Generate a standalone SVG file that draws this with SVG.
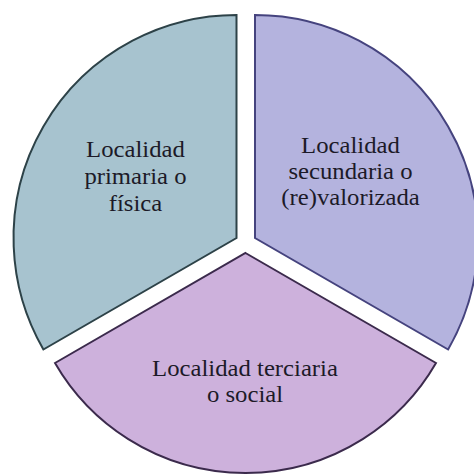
<svg xmlns="http://www.w3.org/2000/svg" width="474" height="474" viewBox="0 0 474 474">
  <style>
    .seg { stroke-width: 2; stroke-linejoin: miter; }
    .lbl { font-family: "Liberation Serif", "Times New Roman", serif; font-size: 23px; fill: #1c1a28; text-anchor: middle; }
  </style>
  <rect width="474" height="474" fill="#ffffff"/>
  <g id="primaria">
    <path class="seg" d="M236.5,238 L236.5,15 A223,223 0 0,0 43.4,349.5 Z" fill="#a7c3cf" stroke="#2d4248"/>
    <g transform="translate(135.5,0) scale(1.075,1)">
      <text class="lbl" x="0" y="157">Localidad</text>
      <text class="lbl" x="0" y="184">primaria o</text>
      <text class="lbl" x="0" y="211">física</text>
    </g>
  </g>
  <g id="secundaria">
    <path class="seg" d="M255,238 L255,15 A223,223 0 0,1 448.1,349.5 Z" fill="#b4b3de" stroke="#45437e"/>
    <g transform="translate(350.5,0) scale(1.075,1)">
      <text class="lbl" x="0" y="153">Localidad</text>
      <text class="lbl" x="0" y="179">secundaria o</text>
      <text class="lbl" x="0" y="205">(re)valorizada</text>
    </g>
  </g>
  <g id="terciaria">
    <path class="seg" d="M245.5,253 L436,363 A220,220 0 0,1 55,363 Z" fill="#cdb1dc" stroke="#3b2a4c"/>
    <g transform="translate(245,0) scale(1.075,1)">
      <text class="lbl" x="0" y="376">Localidad terciaria</text>
      <text class="lbl" x="0" y="402">o social</text>
    </g>
  </g>
  <g id="connectors"/>
</svg>
